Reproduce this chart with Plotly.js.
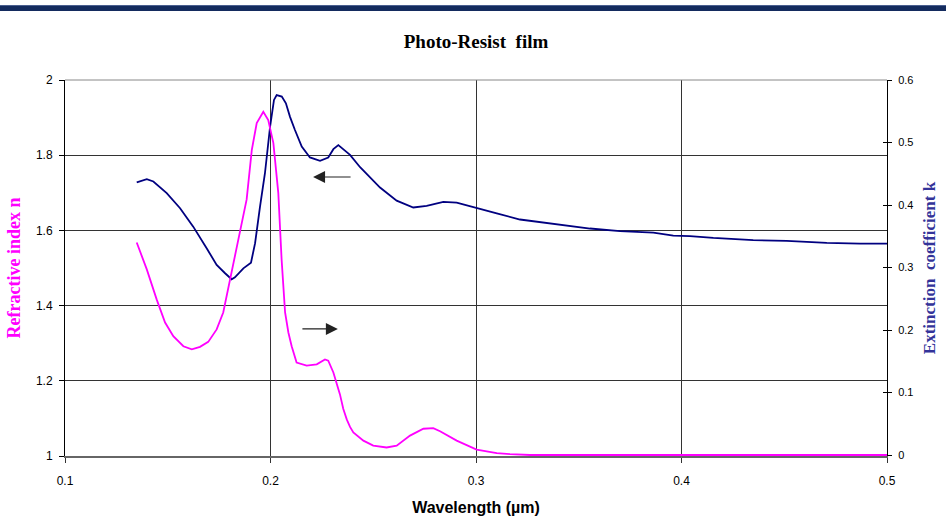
<!DOCTYPE html>
<html>
<head>
<meta charset="utf-8">
<script src="https://cdn.plot.ly/plotly-3.0.1.min.js"></script>
<style>html,body{margin:0;padding:0;background:#fff;}#chart{width:946px;height:519px;}</style>
</head>
<body>
<div id="chart"></div>
<script>
// Refractive index n (navy curve, left axis)
var nWavelength = [0.1349,0.1398,0.1430,0.1495,0.1560,0.1624,0.1690,0.1738,0.1779,0.1811,0.1827,0.1868,0.1905,0.1925,0.1949,0.1973,0.1998,0.2017,0.2030,0.2055,0.2075,0.2095,0.2119,0.2152,0.2192,0.2241,0.2281,0.2306,0.2330,0.2387,0.2436,0.2533,0.2614,0.2695,0.2760,0.2841,0.2906,0.3003,0.3101,0.3214,0.3328,0.3441,0.3555,0.3701,0.3863,0.3960,0.4041,0.4155,0.4349,0.4512,0.4707,0.4869,0.5000];
var nValues = [1.728,1.736,1.730,1.699,1.659,1.610,1.552,1.508,1.486,1.470,1.475,1.499,1.514,1.566,1.663,1.752,1.876,1.947,1.960,1.956,1.938,1.902,1.867,1.823,1.794,1.785,1.794,1.816,1.827,1.801,1.768,1.714,1.679,1.661,1.665,1.676,1.674,1.659,1.645,1.629,1.621,1.612,1.605,1.598,1.594,1.586,1.585,1.580,1.574,1.572,1.567,1.565,1.565];

// Extinction coefficient k (magenta curve, right axis)
var kWavelength = [0.1349,0.1398,0.1446,0.1487,0.1527,0.1576,0.1617,0.1657,0.1697,0.1738,0.1770,0.1803,0.1852,0.1884,0.1909,0.1933,0.1965,0.1989,0.2014,0.2038,0.2054,0.2071,0.2087,0.2103,0.2127,0.2176,0.2225,0.2265,0.2281,0.2306,0.2338,0.2354,0.2371,0.2387,0.2403,0.2452,0.2500,0.2565,0.2614,0.2679,0.2744,0.2792,0.2825,0.2906,0.3003,0.3101,0.3165,0.3263,0.5000];
var kValues = [0.340,0.297,0.249,0.212,0.190,0.174,0.169,0.173,0.181,0.201,0.228,0.281,0.361,0.409,0.488,0.531,0.549,0.536,0.499,0.419,0.313,0.228,0.196,0.174,0.148,0.143,0.145,0.153,0.151,0.132,0.097,0.074,0.057,0.045,0.036,0.023,0.015,0.012,0.015,0.031,0.042,0.043,0.038,0.023,0.0085,0.003,0.0015,0,0];

var xTicks = [0.1,0.2,0.3,0.4,0.5];
var nTicks = [1,1.2,1.4,1.6,1.8,2];
var kTicks = [0,0.1,0.2,0.3,0.4,0.5,0.6];

var traces = [
  {x: nWavelength, y: nValues, type: 'scatter', mode: 'lines', yaxis: 'y',
   line: {color: '#000080', width: 1.8}, hoverinfo: 'skip'},
  {x: kWavelength, y: kValues, type: 'scatter', mode: 'lines', yaxis: 'y2',
   line: {color: '#ff00ff', width: 1.8}, hoverinfo: 'skip'},
  {x: [], y: [], type: 'scatter', mode: 'lines', yaxis: 'y3', hoverinfo: 'skip'}
];

var layout = {
  width: 946, height: 519,
  margin: {l: 65, r: 59, t: 80, b: 63},
  paper_bgcolor: '#fff', plot_bgcolor: '#fff',
  showlegend: false,
  title: {text: '<b>Photo-Resist\u00a0 film</b>', font: {family: 'Liberation Serif', size: 19, color: '#000'},
          xref: 'paper', x: 0.5, xanchor: 'center', y: 0.921, yanchor: 'middle'},
  xaxis: {range: [0.1, 0.5], tickvals: xTicks, ticktext: xTicks.map(String),
          showgrid: true, gridcolor: '#333', gridwidth: 1,
          showline: true, linecolor: '#666', linewidth: 2, layer: 'below traces',
          ticks: 'outside', ticklen: 5, tickcolor: '#333', ticklabelstandoff: 8,
          zeroline: false,
          tickfont: {family: 'Liberation Sans', size: 12, color: '#000'},
          title: {text: '<b>Wavelength (µm)</b>', font: {family: 'Liberation Sans', size: 16, color: '#000'}, standoff: 14}},
  yaxis: {range: [1, 2], tickvals: nTicks, ticktext: nTicks.map(String),
          showgrid: true, gridcolor: '#333', gridwidth: 1,
          showline: true, linecolor: '#000', linewidth: 1,
          ticks: 'outside', ticklen: 5, tickcolor: '#000', ticklabelstandoff: 4,
          zeroline: false,
          tickfont: {family: 'Liberation Sans', size: 12, color: '#000'},
          title: {text: '<b>Refractive index n</b>', font: {family: 'Liberation Serif', size: 18, color: '#ff00ff'}, standoff: 10}},
  yaxis2: {overlaying: 'y', side: 'right', range: [-0.0016, 0.6], tickvals: kTicks, ticktext: kTicks.map(String),
           showgrid: false, showline: true, linecolor: '#000', linewidth: 1,
           ticks: 'outside', ticklen: 4, tickcolor: '#000', ticklabelstandoff: 4,
           zeroline: false,
           tickfont: {family: 'Liberation Sans', size: 11, color: '#000'},
           title: {text: '<b>Extinction\u00a0 coefficient k</b>', font: {family: 'Liberation Serif', size: 17, color: '#333399'}, standoff: 10}},
  yaxis3: {overlaying: 'y', side: 'right', range: [-0.0016, 0.6], tickvals: kTicks,
           showgrid: false, showline: false, zeroline: false, showticklabels: false,
           ticks: 'inside', ticklen: 4, tickcolor: '#000'},
  shapes: [
    {type: 'rect', xref: 'paper', yref: 'paper', x0: -0.08, x1: 1.08, y0: 1.1835, y1: 1.1968,
     fillcolor: '#142b5e', line: {width: 0}, layer: 'above'},
    {type: 'rect', xref: 'paper', yref: 'paper', x0: -0.08, x1: 1.08, y0: 1.1968, y1: 1.1995,
     fillcolor: '#4a5f8f', line: {width: 0}, layer: 'above'},
    {type: 'line', xref: 'paper', yref: 'paper', x0: 0, x1: 1, y0: 1, y1: 1,
     line: {color: '#888', width: 1}, layer: 'above'}
  ],
  annotations: [
    {x: 0.2207, y: 1.742, xref: 'x', yref: 'y', ax: 0.2397, ay: 1.742, axref: 'x', ayref: 'y',
     text: '', showarrow: true, arrowhead: 2, arrowsize: 2, arrowwidth: 1.2, arrowcolor: '#222'},
    {x: 0.2328, y: 1.338, xref: 'x', yref: 'y', ax: 0.2148, ay: 1.338, axref: 'x', ayref: 'y',
     text: '', showarrow: true, arrowhead: 2, arrowsize: 2, arrowwidth: 1.2, arrowcolor: '#222'}
  ]
};

Plotly.newPlot('chart', traces, layout, {staticPlot: true, displayModeBar: false});
</script>
</body>
</html>
